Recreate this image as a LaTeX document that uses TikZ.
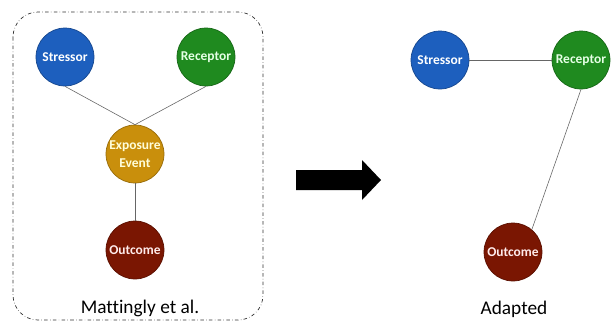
\documentclass[tikz,border=0pt]{standalone}
\usepackage{fontspec}
\setmainfont{Carlito}[Ligatures=NoCommon]
\definecolor{strblue}{HTML}{1D5FBE}
\definecolor{recgreen}{HTML}{1F8A1F}
\definecolor{expgold}{HTML}{C98F0C}
\definecolor{outred}{HTML}{7A1602}

\begin{document}
\begin{tikzpicture}[x=0.03cm, y=-0.03cm,
  factor/.style={draw, circle, minimum size=1.74cm, inner sep=0pt, line width=0.6pt, font=\fontsize{11.5}{12}\selectfont\bfseries},
  link/.style={draw=gray!80!black, line width=0.5pt}]
\useasboundingbox (0,0) rectangle (613,324);
% left: Mattingly et al.
\draw[dash dot, line width=0.6pt, rounded corners=0.75cm, black!80] (13,12) rectangle (263,320);
\node[factor, fill=strblue, draw=strblue!75!black, text=white] (S1) at (65,57) {Stressor};
\node[factor, fill=recgreen, draw=recgreen!75!black, text=green!10] (R1) at (206,57) {Receptor};
\node[factor, fill=expgold, draw=expgold!75!black, text=yellow!15, align=center, font=\fontsize{11.5}{15}\selectfont\bfseries] (E1) at (135,154) {Exposure\\Event};
\node[factor, fill=outred, draw=outred!75!black, text=red!8] (O1) at (135,250) {Outcome};
\draw[link] (S1.south) -- (E1.north);
\draw[link] (R1.south) -- (E1.north);
\draw[link] (E1.south) -- (O1.north);
\node[font=\fontsize{16.5}{18}\selectfont] (L1) at (140,308) {Mattingly et al.};
% arrow
\fill (296,170) -- (362,170) -- (362,160) -- (381,180) -- (362,200) -- (362,190) -- (296,190) -- cycle;
% right: adapted
\node[factor, fill=strblue, draw=strblue!75!black, text=white] (S2) at (440,60) {Stressor};
\node[factor, fill=recgreen, draw=recgreen!75!black, text=green!10] (R2) at (581,60) {Receptor};
\node[factor, fill=outred, draw=outred!75!black, text=red!8] (O2) at (513,252) {Outcome};
\draw[link] (S2) -- (R2);
\draw[link] (R2.south) -- (O2.50);
\node[font=\fontsize{16.5}{18}\selectfont] (L2) at (514,309) {Adapted};
\end{tikzpicture}
\end{document}
